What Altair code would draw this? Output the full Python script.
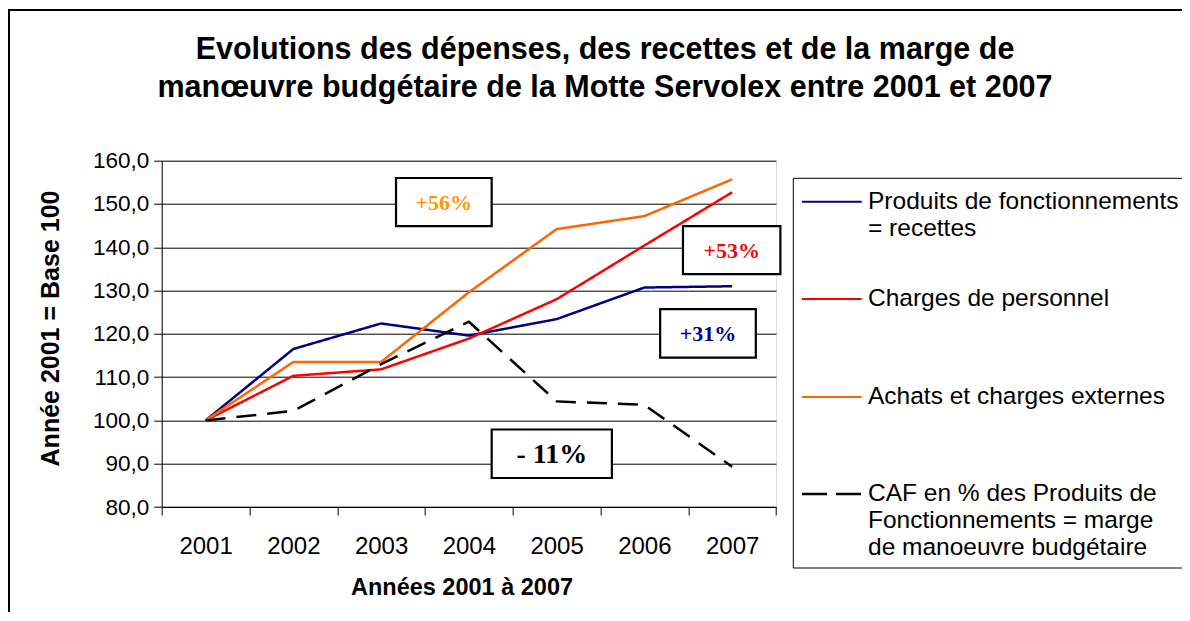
import altair as alt
import pandas as pd

# ---------------- data ----------------
years = ["2001", "2002", "2003", "2004", "2005", "2006", "2007"]
produits = [100.0, 116.5, 122.4, 119.6, 123.4, 130.7, 131.0]
charges = [100.0, 110.3, 111.8, 118.9, 128.0, 140.4, 152.7]
achats = [100.0, 113.5, 113.5, 129.6, 144.2, 147.2, 155.7]
caf = [100.0, 102.2, 113.0, 122.8, 104.4, 103.6, 89.3]

series_names = [
    "Produits de fonctionnements = recettes",
    "Charges de personnel",
    "Achats et charges externes",
    "CAF en % des Produits de Fonctionnements = marge de manoeuvre budgétaire",
]
legend_lines = [
    ["Produits de fonctionnements", "= recettes"],
    ["Charges de personnel"],
    ["Achats et charges externes"],
    ["CAF en % des Produits de", "Fonctionnements = marge", "de manoeuvre budgétaire"],
]
series_colors = ["#000080", "#FF0000", "#FF6600", "#000000"]
series_dash = [[1, 0], [1, 0], [1, 0], [20, 11]]

title_lines = [
    "Evolutions des dépenses, des recettes et de la marge de",
    "manœuvre budgétaire de la Motte Servolex entre 2001 et 2007",
]
y_title = "Année 2001 = Base 100"
x_title = "Années  2001 à 2007"
y_ticks = [80, 90, 100, 110, 120, 130, 140, 150, 160]

# annotation boxes (x in year-index units 1..7, y in index values)
ann_text = ["+56%", "+53%", "+31%", "- 11%"]
ann_color = ["#FF9900", "#FF0000", "#000080", "#000000"]
ann_size = [22, 22, 22, 28]
ann_x1 = [3.17, 6.44, 6.18, 4.26]
ann_x2 = [4.26, 7.55, 7.27, 5.63]
ann_y1 = [144.9, 133.8, 114.5, 86.7]
ann_y2 = [156.0, 144.9, 125.7, 97.9]

# ---------------- layout ----------------
W, H = 614.3, 346.3
FONT = "Liberation Sans"

rows = []
for name, vals in zip(series_names, [produits, charges, achats, caf]):
    for yr, v in zip(years, vals):
        rows.append({"year": yr, "value": v, "series": name})
df = pd.DataFrame(rows)

lines = alt.Chart(df).mark_line(clip=False).encode(
    x=alt.X(
        "year:N",
        sort=years,
        scale=alt.Scale(type="band", paddingInner=0, paddingOuter=0),
        axis=alt.Axis(
            title=None,
            labelAngle=0,
            tickBand="extent",
            labelFont=FONT,
            labelFontSize=24,
            labelColor="black",
            labelPadding=19,
            tickColor="black",
            tickSize=8,
            domainColor="black",
            grid=False,
        ),
    ),
    y=alt.Y(
        "value:Q",
        scale=alt.Scale(domain=[80, 160], nice=False, zero=False),
        axis=alt.Axis(
            title=None,
            values=y_ticks,
            labelExpr="replace(format(datum.value, '.1f'), '.', ',')",
            labelFont=FONT,
            labelFontSize=22.5,
            labelColor="black",
            labelPadding=5,
            tickColor="black",
            tickSize=8,
            domainColor="black",
            grid=True,
            gridColor="black",
            gridWidth=1,
            gridOpacity=1,
        ),
    ),
    color=alt.Color("series:N", scale=alt.Scale(domain=series_names, range=series_colors), legend=None),
    strokeDash=alt.StrokeDash("series:N", scale=alt.Scale(domain=series_names, range=series_dash), legend=None),
    strokeWidth=alt.StrokeWidth("series:N", scale=alt.Scale(domain=series_names, range=[2.5, 2.5, 2.5, 3.3]), legend=None),
)

ann_df = pd.DataFrame({
    "text": ann_text, "color": ann_color, "size": ann_size,
    "x1": ann_x1, "x2": ann_x2, "y1": ann_y1, "y2": ann_y2,
})
ann_df["xc"] = (ann_df["x1"] + ann_df["x2"]) / 2
ann_df["yc"] = (ann_df["y1"] + ann_df["y2"]) / 2

xq = alt.Scale(domain=[0.5, 7.5], nice=False, zero=False)
boxes = alt.Chart(ann_df).mark_rect(fill="white", stroke="black", strokeWidth=2.2, clip=False).encode(
    x=alt.X("x1:Q", scale=xq, axis=None),
    x2="x2:Q",
    y=alt.Y("y1:Q"),
    y2="y2:Q",
)
ann_txt = alt.Chart(ann_df).mark_text(font="Liberation Serif", fontWeight="bold", baseline="middle", align="center", dy=1).encode(
    x=alt.X("xc:Q", scale=xq, axis=None),
    y=alt.Y("yc:Q"),
    text="text:N",
    color=alt.Color("color:N", scale=None),
    size=alt.Size("size:Q", scale=None),
)

base = alt.Chart(pd.DataFrame({"a": [0]}))

# outer border of the chart
outer = base.mark_rect(fill=None, stroke="black", strokeWidth=2).encode(
    x=alt.value(-152.7), x2=alt.value(1200), y=alt.value(-150.7), y2=alt.value(700)
)

# title
title_layers = []
for i, t in enumerate(title_lines):
    title_layers.append(
        base.mark_text(text=t, font=FONT, fontWeight="bold", fontSize=30.5, align="center", baseline="middle", color="black").encode(
            x=alt.value(443.3), y=alt.value(-110.7 + i * 38)
        )
    )

ytitle = base.mark_text(text=y_title, font=FONT, fontWeight="bold", fontSize=25, angle=270, align="center", baseline="middle", color="black").encode(
    x=alt.value(51 - 161.7), y=alt.value(328.5 - 160.7)
)
xtitle = base.mark_text(text=x_title, font=FONT, fontWeight="bold", fontSize=23.5, align="center", baseline="middle", color="black").encode(
    x=alt.value(462 - 161.7), y=alt.value(588 - 160.7)
)

# manual legend
leg_layers = [
    base.mark_rect(fill="white", stroke="black", strokeWidth=1).encode(
        x=alt.value(631.6), x2=alt.value(1100), y=alt.value(17.6), y2=alt.value(407.3)
    )
]
entry_y = [41, 138.3, 236.3, 333.3]
leg_dash = [[1, 0], [1, 0], [1, 0], [25, 9]]
for i in range(4):
    leg_layers.append(
        base.mark_rule(color=series_colors[i], strokeWidth=2.6 if i == 3 else 2, strokeDash=leg_dash[i]).encode(
            x=alt.value(640.3), x2=alt.value(700), y=alt.value(entry_y[i])
        )
    )
    for j, ln in enumerate(legend_lines[i]):
        leg_layers.append(
            base.mark_text(text=ln, font=FONT, fontSize=24.5, align="left", baseline="middle", color="black").encode(
                x=alt.value(706.3), y=alt.value(entry_y[i] + j * 27)
            )
        )

chart = alt.layer(
    outer, lines, boxes, ann_txt, *title_layers, ytitle, xtitle, *leg_layers
).resolve_scale(x="independent").properties(
    width=W,
    height=H,
    autosize=alt.AutoSizeParams(type="none"),
    padding={"left": 153.7, "top": 152.7, "right": 406, "bottom": 105},
).configure_view(
    fill="#C0C0C0", stroke="#808080", strokeWidth=1.5
).configure(background="white")

chart.save("out.html", embed_options={"renderer": "svg", "actions": False})
